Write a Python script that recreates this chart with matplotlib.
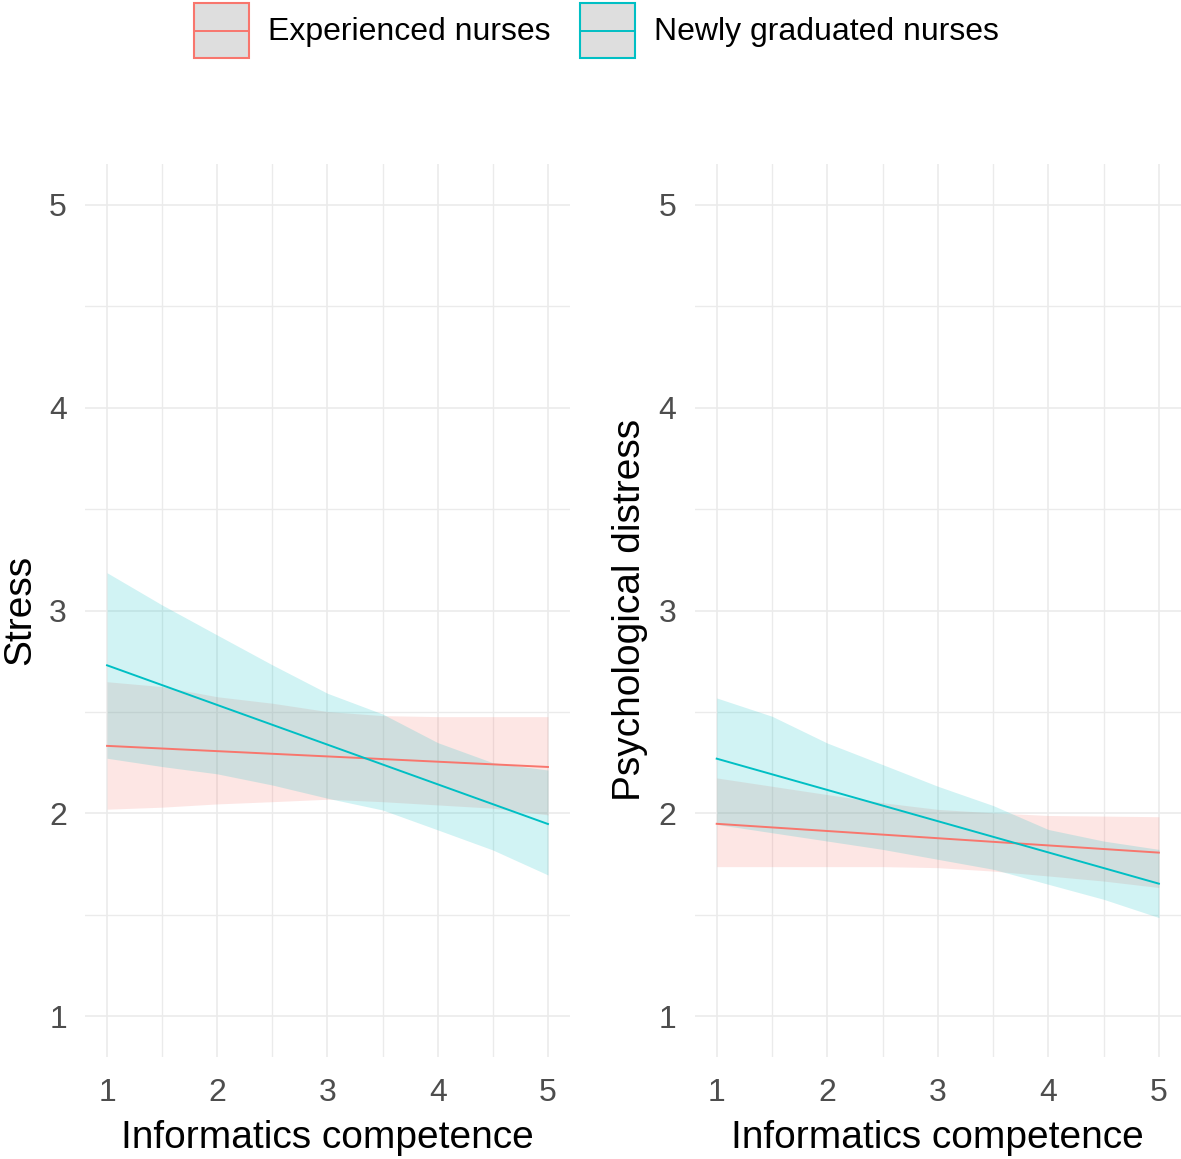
import matplotlib
matplotlib.use("Agg")
import matplotlib.pyplot as plt
from matplotlib.lines import Line2D
from matplotlib.patches import Rectangle
from matplotlib.ticker import MultipleLocator

plt.rcParams['font.family'] = ['Liberation Sans', 'DejaVu Sans']

# values
groups = ["Experienced nurses", "Newly graduated nurses"]
colors = ["#F8766D", "#00BFC4"]
x_fit = [1, 5]
x_band = [1, 1.5, 2, 2.5, 3, 3.5, 4, 4.5, 5]

# Stress panel
stress_exp_fit = [2.333, 2.229]
stress_new_fit = [2.730, 1.948]
stress_exp_lo = [2.021, 2.031, 2.047, 2.058, 2.070, 2.058, 2.042, 2.026, 1.993]
stress_exp_hi = [2.649, 2.625, 2.575, 2.543, 2.502, 2.482, 2.477, 2.477, 2.477]
stress_new_lo = [2.272, 2.231, 2.195, 2.140, 2.075, 2.017, 1.919, 1.820, 1.697]
stress_new_hi = [3.186, 3.027, 2.879, 2.732, 2.592, 2.490, 2.349, 2.250, 2.214]

# Psychological distress panel
dist_exp_fit = [1.949, 1.807]
dist_new_fit = [2.270, 1.654]
dist_exp_lo = [1.738, 1.738, 1.738, 1.738, 1.733, 1.716, 1.692, 1.667, 1.635]
dist_exp_hi = [2.175, 2.134, 2.093, 2.053, 2.020, 2.003, 1.990, 1.987, 1.984]
dist_new_lo = [1.946, 1.905, 1.864, 1.823, 1.774, 1.725, 1.651, 1.577, 1.487]
dist_new_hi = [2.569, 2.479, 2.347, 2.241, 2.134, 2.039, 1.921, 1.864, 1.823]

panels = [
    ("Stress", [stress_exp_fit, stress_new_fit],
     [(stress_exp_lo, stress_exp_hi), (stress_new_lo, stress_new_hi)]),
    ("Psychological distress", [dist_exp_fit, dist_new_fit],
     [(dist_exp_lo, dist_exp_hi), (dist_new_lo, dist_new_hi)]),
]

W, H = 1181, 1159
fig = plt.figure(figsize=(W / 100, H / 100), dpi=100)

ax_boxes = [[85 / W, (H - 1057) / H, 485 / W, 893 / H],
            [694.6 / W, (H - 1057) / H, 486.4 / W, 893 / H]]
ylabel_x = [20, 630]

for box, lab_x, (ylab, fits, bands) in zip(ax_boxes, ylabel_x, panels):
    ax = fig.add_axes(box)
    for color, fit, (lo, hi) in zip(colors, fits, bands):
        ax.fill_between(x_band, lo, hi, color=color, alpha=0.18, linewidth=0)
        ax.plot(x_fit, fit, color=color, linewidth=1.4)

    ax.set_xlim(0.8, 5.2)
    ax.set_ylim(0.8, 5.2)
    ax.xaxis.set_major_locator(MultipleLocator(1))
    ax.xaxis.set_minor_locator(MultipleLocator(0.5))
    ax.yaxis.set_major_locator(MultipleLocator(1))
    ax.yaxis.set_minor_locator(MultipleLocator(0.5))
    ax.grid(which='major', color='#EBEBEB', linewidth=1.2)
    ax.grid(which='minor', color='#EBEBEB', linewidth=1.0)
    ax.set_axisbelow(True)
    for s in ax.spines.values():
        s.set_visible(False)
    ax.tick_params(which='both', length=0, labelsize=23, labelcolor='#4D4D4D')
    ax.tick_params(axis='x', pad=15)
    ax.tick_params(axis='y', pad=13)

    fig.text(lab_x / W, 1 - 610 / H, ylab, rotation=90, ha='center', va='center',
             fontsize=28, color='black')
    cx = (box[0] + box[2] / 2)
    fig.text(cx, 1 - 1138 / H, "Informatics competence", ha='center', va='center',
             fontsize=28, color='black')

# legend drawn by hand: key box with fill + fit line, then label
key_left = [194, 580]
key_w, key_top, key_bot = 55, 3, 58
for x0, c, name in zip(key_left, colors, groups):
    fig.add_artist(Rectangle((x0 / W, 1 - key_bot / H), key_w / W, (key_bot - key_top) / H,
                             transform=fig.transFigure, facecolor='#DEDEDE',
                             edgecolor=c, linewidth=1.5))
    ymid = 1 - (key_top + key_bot) / 2 / H
    fig.add_artist(Line2D([x0 / W, (x0 + key_w) / W], [ymid, ymid],
                          transform=fig.transFigure, color=c, linewidth=1.4))
    fig.text((x0 + key_w + 19) / W, 1 - 32 / H, name, ha='left', va='center',
             fontsize=23, color='black')

fig.savefig("out.png", dpi=100)
